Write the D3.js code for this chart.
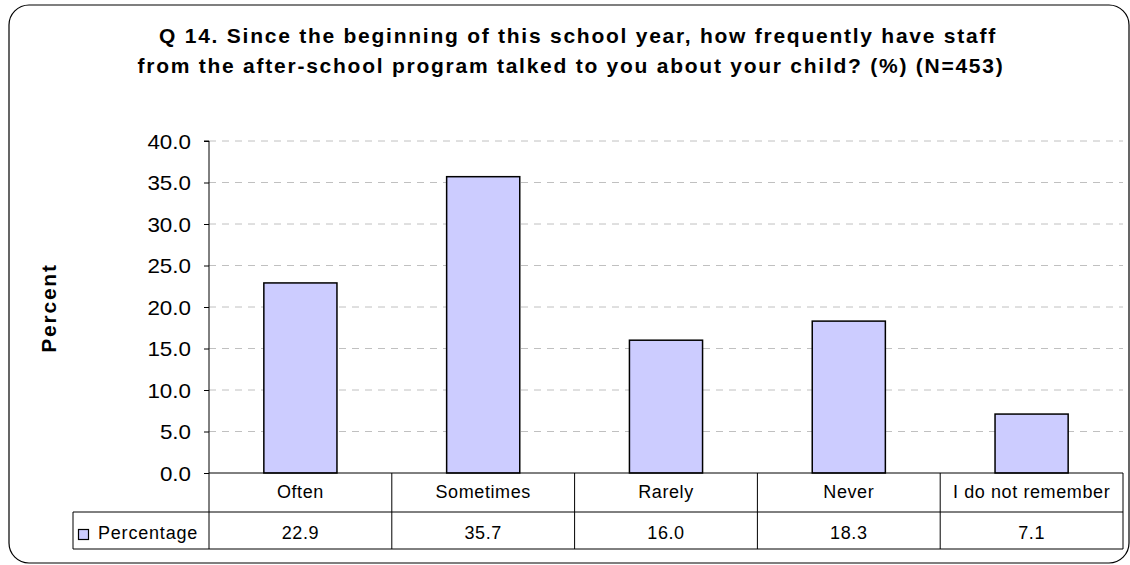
<!DOCTYPE html>
<html><head><meta charset="utf-8">
<script src="https://cdn.jsdelivr.net/npm/d3@7"></script>
<style>body{margin:0;background:#fff}svg{display:block}text{font-family:"Liberation Sans",Arial,sans-serif}</style>
</head><body><svg id="c" width="1130" height="565"></svg>
<script>
const titleLines = ["Q 14. Since the beginning of this school year, how frequently have staff",
                    "from the after-school program talked to you about your child? (%) (N=453)"];
const categories = ["Often", "Sometimes", "Rarely", "Never", "I do not remember"];
const values = [22.9, 35.7, 16.0, 18.3, 7.1];
const seriesName = "Percentage";
const yTicks = [0, 5, 10, 15, 20, 25, 30, 35, 40];
const yLabel = "Percent";

const svg = d3.select("#c");
const L = 209, R = 1123, T = 141, B = 473;
const row1B = 512, row2B = 549, legL = 73;

svg.append("rect").attr("x", 9).attr("y", 5).attr("width", 1120).attr("height", 558)
  .attr("rx", 20).attr("fill", "#fff").attr("stroke", "#000").attr("stroke-width", 1.2);

const titleCx = [578, 571];
titleLines.forEach((t, i) => {
  svg.append("text").attr("x", titleCx[i]).attr("y", 43 + i * 30).attr("text-anchor", "middle")
    .attr("font-size", 21).attr("font-weight", "bold").attr("letter-spacing", 1.75).text(t);
});

const x = d3.scaleBand().domain(categories).range([L, R]).padding(0);
const y = d3.scaleLinear().domain([0, 40]).range([B, T]);

// gridlines
svg.append("g").selectAll("line").data(yTicks.filter(d => d > 0)).join("line")
  .attr("x1", L).attr("x2", R).attr("y1", d => y(d)).attr("y2", d => y(d))
  .attr("stroke", "#c0c0c0").attr("stroke-dasharray", "7,6").attr("stroke-width", 1);

// bars
const bw = x.bandwidth() * 0.4;
svg.append("g").selectAll("rect").data(values).join("rect")
  .attr("x", (d, i) => x(categories[i]) + (x.bandwidth() - bw) / 2)
  .attr("y", d => y(d)).attr("width", bw).attr("height", d => B - y(d))
  .attr("fill", "#ccccff").attr("stroke", "#000").attr("stroke-width", 1.5);

// y axis
const ya = svg.append("g").attr("transform", `translate(${L},0)`)
  .call(d3.axisLeft(y).tickValues(yTicks).tickFormat(d3.format(".1f")).tickSize(5));
ya.select(".domain").attr("stroke", "#000").attr("d", `M-5,${T}H0V${row2B}`);
ya.selectAll("text").attr("x", 0).attr("font-size", 20)
  .attr("transform", "translate(-18,0) scale(1.12,1)")
  .attr("font-family", "Liberation Sans, Arial, sans-serif").attr("fill", "#000").attr("dy", "0.35em");
ya.selectAll("line").attr("stroke", "#000");

svg.append("text").attr("transform", `translate(56,${(T + B) / 2 + 1}) rotate(-90)`)
  .attr("text-anchor", "middle").attr("font-size", 21).attr("font-weight", "bold")
  .attr("letter-spacing", 1.75).text(yLabel);

// data table
const tb = svg.append("g").attr("stroke", "#000").attr("stroke-width", 1);
tb.append("line").attr("x1", L).attr("x2", R).attr("y1", B).attr("y2", B);
tb.append("line").attr("x1", legL).attr("x2", R).attr("y1", row1B).attr("y2", row1B);
tb.append("line").attr("x1", legL).attr("x2", R).attr("y1", row2B).attr("y2", row2B);
tb.append("line").attr("x1", legL).attr("x2", legL).attr("y1", row1B).attr("y2", row2B);
tb.selectAll(".v").data(categories).join("line")
  .attr("x1", d => x(d) + x.bandwidth()).attr("x2", d => x(d) + x.bandwidth())
  .attr("y1", B).attr("y2", row2B);

svg.append("g").selectAll("text").data(categories).join("text")
  .attr("x", d => x(d) + x.bandwidth() / 2).attr("y", 498).attr("text-anchor", "middle")
  .attr("font-size", 18).attr("letter-spacing", 0.6).text(d => d);
svg.append("g").selectAll("text").data(values).join("text")
  .attr("x", (d, i) => x(categories[i]) + x.bandwidth() / 2).attr("y", 539).attr("text-anchor", "middle")
  .attr("font-size", 18).attr("letter-spacing", 0.6).text(d => d3.format(".1f")(d));

svg.append("rect").attr("x", 78.5).attr("y", 529.5).attr("width", 10).attr("height", 10)
  .attr("fill", "#ccccff").attr("stroke", "#000").attr("stroke-width", 1.2);
svg.append("text").attr("x", 98).attr("y", 539).attr("font-size", 18).attr("letter-spacing", 0.8).text(seriesName);
</script></body></html>
